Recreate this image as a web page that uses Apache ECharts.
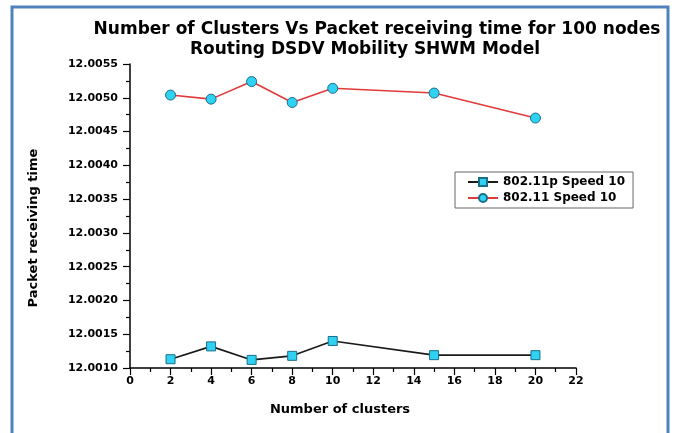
<!DOCTYPE html>
<html>
<head>
<meta charset="utf-8">
<script src="https://cdn.jsdelivr.net/npm/echarts@6/dist/echarts.min.js"></script>
<style>
  html, body { margin: 0; padding: 0; background: #ffffff; }
  #chart { width: 675px; height: 433px; }
</style>
</head>
<body>
<div id="chart"></div>
<script>
// Cluster counts on the x axis
const clusters = [2, 4, 6, 8, 10, 15, 20];
// Packet receiving time per protocol variant
const time80211p = [12.00113, 12.00132, 12.00112, 12.00118, 12.00140, 12.00119, 12.00119];
const time80211 = [12.00504, 12.00498, 12.00524, 12.00493, 12.00514, 12.00507, 12.00470];
const seriesNames = ['802.11p Speed 10', '802.11 Speed 10'];

const titleLines = [
  'Number of Clusters Vs Packet receiving time for 100 nodes',
  'Routing DSDV Mobility SHWM Model'
];
const xAxisTitle = 'Number of clusters';
const yAxisTitle = 'Packet receiving time';

const FONT = '"DejaVu Sans", Verdana, sans-serif';
const chart = echarts.init(document.getElementById('chart'), null, { renderer: 'canvas' });

const pairs = (xs, ys) => xs.map((x, i) => [x, ys[i]]);
const boldText = (text, x, y, size, rotation) => ({
  type: 'text', z: 10, x: x, y: y, rotation: rotation || 0,
  style: {
    text: text, font: 'bold ' + size + 'px ' + FONT, fill: '#000',
    textAlign: 'center', textVerticalAlign: 'middle'
  }
});

chart.setOption({
  animation: false,
  backgroundColor: '#ffffff',
  graphic: [
    {
      type: 'rect', z: 0,
      shape: { x: 12, y: 7, width: 656, height: 460 },
      style: { fill: 'none', stroke: '#4f81bd', lineWidth: 3 }
    },
    boldText(titleLines[0], 377, 30, 17),
    boldText(titleLines[1], 365, 50, 17),
    boldText(xAxisTitle, 340, 410, 13),
    boldText(yAxisTitle, 34, 228, 13, Math.PI / 2)
  ],
  grid: { left: 130, top: 64, width: 446, height: 304, containLabel: false },
  legend: {
    orient: 'vertical',
    left: 455, top: 172,
    padding: [4, 8, 4, 12],
    itemGap: 4,
    itemWidth: 30, itemHeight: 10,
    borderColor: '#666', borderWidth: 1,
    backgroundColor: '#fff',
    textStyle: { fontFamily: FONT, fontWeight: 'bold', fontSize: 12, color: '#000' },
    data: seriesNames
  },
  xAxis: {
    type: 'value', min: 0, max: 22, interval: 2,
    axisLine: { show: true, lineStyle: { color: '#000', width: 1.5 } },
    axisTick: { show: true, inside: false, length: 7, lineStyle: { color: '#000', width: 1.2 } },
    minorTick: { show: true, splitNumber: 2, length: 4, lineStyle: { color: '#000', width: 1.2 } },
    axisLabel: { fontFamily: FONT, fontWeight: 'bold', fontSize: 11, color: '#000', margin: 8 },
    splitLine: { show: false }
  },
  yAxis: {
    type: 'value', min: 12.0010, max: 12.0055, interval: 0.0005,
    axisLine: { show: true, lineStyle: { color: '#000', width: 1.5 } },
    axisTick: { show: true, inside: false, length: 7, lineStyle: { color: '#000', width: 1.2 } },
    minorTick: { show: true, splitNumber: 2, length: 4, lineStyle: { color: '#000', width: 1.2 } },
    axisLabel: {
      fontFamily: FONT, fontWeight: 'bold', fontSize: 11, color: '#000', margin: 12,
      formatter: v => v.toFixed(4)
    },
    splitLine: { show: false }
  },
  series: [
    {
      name: seriesNames[0], type: 'line',
      data: pairs(clusters, time80211p),
      symbol: 'rect', symbolSize: 9,
      lineStyle: { color: '#1a1a1a', width: 1.6 },
      itemStyle: { color: '#2fd2f2', borderColor: '#1a6f88', borderWidth: 1 },
      z: 3
    },
    {
      name: seriesNames[1], type: 'line',
      data: pairs(clusters, time80211),
      symbol: 'circle', symbolSize: 10,
      lineStyle: { color: '#e03a3a', width: 1.6 },
      itemStyle: { color: '#2fd2f2', borderColor: '#1a6f88', borderWidth: 1 },
      z: 3
    }
  ]
});
</script>
</body>
</html>
